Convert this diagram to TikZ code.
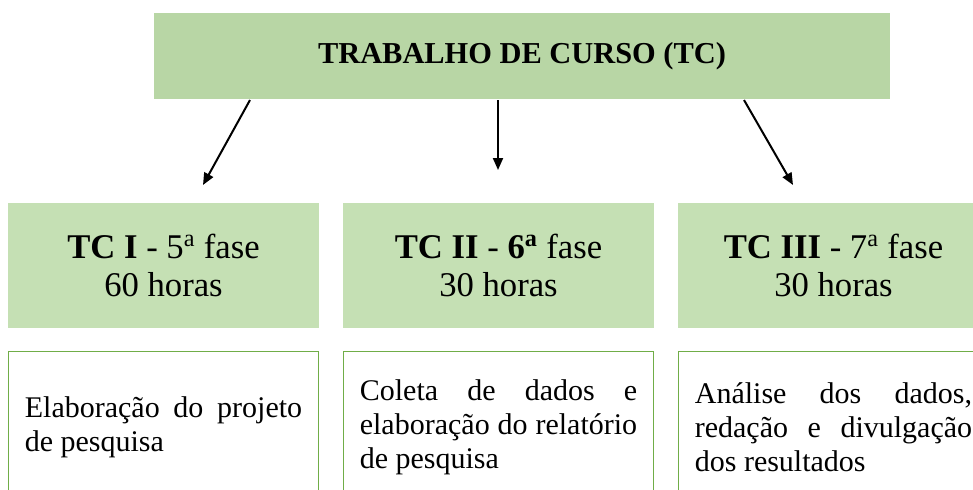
\documentclass[tikz,border=0pt]{standalone}
\usepackage{fontspec}
\setmainfont{Liberation Serif}
\usetikzlibrary{positioning}
\usetikzlibrary{calc}
\usetikzlibrary{arrows.meta}
\definecolor{coursegreen}{HTML}{B8D6A5}
\definecolor{phasegreen}{HTML}{C5E0B4}
\definecolor{taskgreen}{HTML}{70AD47}
\newcommand{\nohyph}{\hyphenpenalty=10000\relax\exhyphenpenalty=10000\relax}

\begin{document}
\begin{tikzpicture}[x=0.75pt,y=-0.75pt,->,>={Triangle[length=9pt,width=7.5pt]},line width=1.5pt,node distance=251.25pt,on grid,
        course/.style={fill=coursegreen,minimum width=552pt,minimum height=64.5pt,font=\fontsize{22.8}{26}\selectfont\bfseries},
        phase/.style={fill=phasegreen,minimum width=233.25pt,minimum height=93.75pt,align=center,font=\fontsize{26}{29}\selectfont},
        task/.style={draw=taskgreen,line width=0.75pt,fill=white,text width=208pt,inner xsep=12pt,minimum height=112.5pt,align=justify,
                font=\fontsize{22.5}{25.5}\selectfont\nohyph}]
        \clip (0,0) rectangle (973,489);
        \node[course] (tc) at (522,56) {TRABALHO DE CURSO (TC)};
        \node[phase] (tc1) at (163.5,265.5) {\textbf{TC I} - 5\textsuperscript{a} fase\\60 horas};
        \node[phase] (tc2) [right=of tc1] {\textbf{TC II} - \textbf{6\textsuperscript{a}} fase\\30 horas};
        \node[phase] (tc3) [right=of tc2] {\textbf{TC III} - 7\textsuperscript{a} fase\\30 horas};
        \node[task] (t1) [below=121pt of tc1] {Elaboração do projeto de pesquisa};
        \node[task] (t2) [below=121pt of tc2] {Coleta de dados e elaboração do relatório de pesquisa};
        \node[task] (t3) [below=121pt of tc3] {Análise dos dados, redação e divulgação dos resultados};
        \draw ($(tc.south)+(-272,0)$) -- ($(tc1.north)+(39.5,-17)$);
        \draw ($(tc.south)+(-24,0)$) -- ($(tc2.north)+(-0.5,-32)$);
        \draw ($(tc.south)+(222,0)$) -- ($(tc3.north)+(-40.5,-17)$);
\end{tikzpicture}
\end{document}
